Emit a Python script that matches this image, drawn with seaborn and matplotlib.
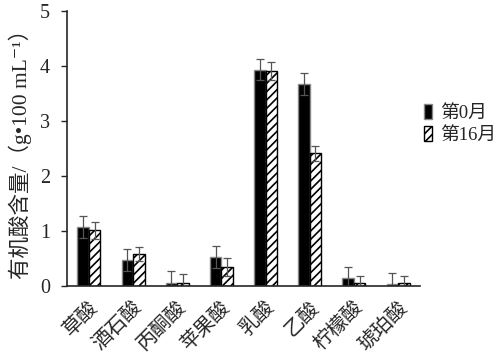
import numpy as np
import pandas as pd
import seaborn as sns
import matplotlib
matplotlib.use("Agg")
from matplotlib import pyplot as plt

# Data
acids = ["草酸", "酒石酸", "丙酮酸", "苹果酸", "乳酸", "乙酸", "柠檬酸", "琥珀酸"]
month0 = [1.08, 0.47, 0.06, 0.53, 3.93, 3.67, 0.14, 0.04]
month16 = [1.01, 0.58, 0.06, 0.35, 3.91, 2.41, 0.05, 0.06]
err0 = [0.20, 0.20, 0.21, 0.20, 0.19, 0.20, 0.20, 0.20]
err16 = [0.15, 0.13, 0.16, 0.16, 0.16, 0.14, 0.14, 0.13]
groups = ["第0月", "第16月"]

df = pd.DataFrame({
    "acid": acids * 2,
    "value": month0 + month16,
    "group": [groups[0]] * len(acids) + [groups[1]] * len(acids),
})

sns.set_style("ticks")
plt.rcParams['font.family'] = ['Liberation Serif', 'Noto Sans CJK SC', 'DejaVu Serif']
plt.rcParams['hatch.linewidth'] = 1.2

fig = plt.figure(figsize=(5.02, 3.57), dpi=100)
ax = fig.add_axes([0.133, 0.199, 0.704, 0.770])

sns.barplot(data=df, x="acid", y="value", hue="group", order=acids,
            hue_order=groups, palette=["black", "white"], width=0.52,
            edgecolor="#888888", linewidth=1.0, saturation=1, ax=ax)

# hatch the 16-month bars, error bars on each
n = len(acids)
for i, p in enumerate(ax.patches[:2 * n]):
    if i >= n:
        p.set_hatch("////")
        p.set_edgecolor("black")
for cont, errs in zip(ax.containers, [err0, err16]):
    xs = [p.get_x() + p.get_width() / 2 for p in cont]
    ys = [p.get_height() for p in cont]
    ax.errorbar(xs, ys, yerr=errs, fmt="none", ecolor="#555555",
                elinewidth=0.9, capsize=3, capthick=0.9)

ax.set_ylim(0, 5)
ax.set_xlim(-0.5, n - 0.5)
ax.set_yticks(range(0, 6))
ax.tick_params(axis="y", labelsize=14.5, direction="out", length=4, width=1, pad=8)
ax.tick_params(axis="x", length=0, labelsize=14.5, pad=9)
plt.setp(ax.get_xticklabels(), rotation=45, ha="right", rotation_mode="anchor")
ax.set_xlabel("")
ax.set_ylabel("有机酸含量/（g•100 mL⁻¹）", fontsize=15.5, labelpad=6)
sns.despine(ax=ax)
for s in ["left", "bottom"]:
    ax.spines[s].set_linewidth(1.2)

leg = ax.legend(loc="center left", bbox_to_anchor=(1.0, 0.59), frameon=False,
                fontsize=13.5, handlelength=0.45, handleheight=0.9,
                handletextpad=0.4, labelspacing=0.2, borderpad=0,
                borderaxespad=0.2)
leg.get_patches()[0].set_edgecolor("#888888")
leg.get_patches()[1].set_hatch("////")
leg.get_patches()[1].set_edgecolor("black")

fig.savefig("out.png", dpi=100)
